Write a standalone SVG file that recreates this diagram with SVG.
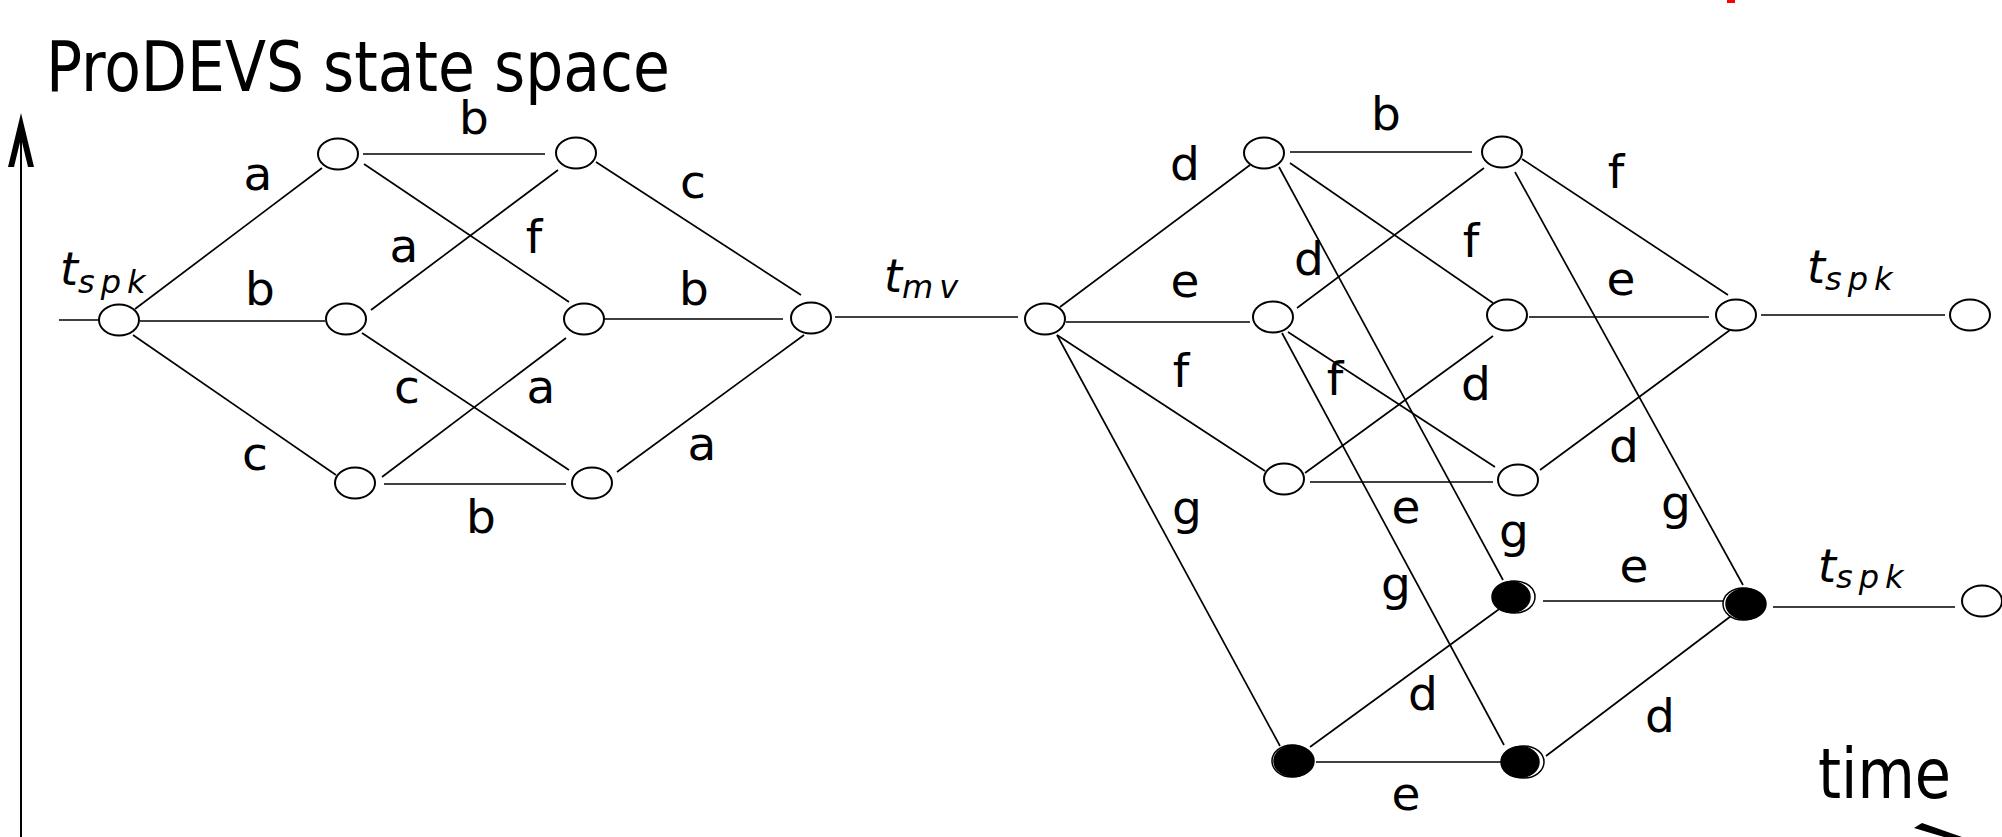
<svg xmlns="http://www.w3.org/2000/svg" width="2002" height="837" viewBox="0 0 2002 837">
<style>
.c line{stroke:#000;stroke-width:1.7;fill:none}
.n{fill:#fff;stroke:#000;stroke-width:2}
.k{fill:#000;stroke:#000;stroke-width:1.5}
.o{fill:#fff;stroke:#000;stroke-width:1.5}
.lb{font-family:"DejaVu Sans","Liberation Sans",sans-serif;font-size:47px;fill:#000;text-anchor:middle}
.it{font-family:"DejaVu Sans","Liberation Sans",sans-serif;font-style:italic;font-size:46px;fill:#000}
.sub{font-size:32px;letter-spacing:6px}
.big{font-family:"DejaVu Sans Condensed","DejaVu Sans","Liberation Sans",sans-serif;font-size:70px;fill:#000}
</style>
<rect width="2002" height="837" fill="#fff"/>
<rect x="1727" y="0" width="8" height="3" fill="#f00"/>
<text class="big" x="46" y="91" textLength="624" lengthAdjust="spacingAndGlyphs">ProDEVS state space</text>
<text class="big" x="1818" y="798" textLength="133" lengthAdjust="spacingAndGlyphs">time</text>
<g id="axis">
<line x1="21" y1="130" x2="21" y2="837" stroke="#000" stroke-width="2"/>
<path d="M21,113 L34,167 L28,167 L21,138 L14,167 L8,167 Z" fill="#000"/>
<path d="M1914,828 L1922,823 L1962,837 L1944,837 Z" fill="#000"/>
</g>
<g id="connectors" class="c">
<line x1="59" y1="320" x2="99" y2="320"/>
<line x1="135" y1="309" x2="322" y2="168"/>
<line x1="140" y1="321" x2="325" y2="321"/>
<line x1="133" y1="335" x2="336" y2="475"/>
<line x1="363" y1="154" x2="545" y2="154"/>
<line x1="364" y1="164" x2="569" y2="302"/>
<line x1="371" y1="310" x2="558" y2="170"/>
<line x1="362" y1="333" x2="569" y2="470"/>
<line x1="596" y1="162" x2="801" y2="295"/>
<line x1="602" y1="319" x2="783" y2="319"/>
<line x1="382" y1="477" x2="566" y2="338"/>
<line x1="384" y1="484" x2="566" y2="484"/>
<line x1="617" y1="472" x2="804" y2="335"/>
<line x1="835" y1="317" x2="1018" y2="317"/>
<line x1="1060" y1="307" x2="1250" y2="165"/>
<line x1="1066" y1="322" x2="1250" y2="322"/>
<line x1="1057" y1="335" x2="1265" y2="471"/>
<line x1="1057" y1="335" x2="1280" y2="746"/>
<line x1="1290" y1="152" x2="1472" y2="152"/>
<line x1="1290" y1="163" x2="1493" y2="303"/>
<line x1="1279" y1="167" x2="1503" y2="580"/>
<line x1="1297" y1="308" x2="1484" y2="168"/>
<line x1="1288" y1="332" x2="1495" y2="467"/>
<line x1="1282" y1="333" x2="1504" y2="745"/>
<line x1="1522" y1="159" x2="1728" y2="295"/>
<line x1="1515" y1="172" x2="1743" y2="585"/>
<line x1="1529" y1="317" x2="1709" y2="317"/>
<line x1="1493" y1="336" x2="1305" y2="473"/>
<line x1="1730" y1="330" x2="1540" y2="470"/>
<line x1="1761" y1="315" x2="1945" y2="315"/>
<line x1="1310" y1="482" x2="1493" y2="482"/>
<line x1="1543" y1="601" x2="1725" y2="601"/>
<line x1="1773" y1="607" x2="1955" y2="607"/>
<line x1="1310" y1="747" x2="1502" y2="607"/>
<line x1="1316" y1="762" x2="1502" y2="762"/>
<line x1="1546" y1="756" x2="1735" y2="613"/>
</g>
<g id="n0"><ellipse class="n" cx="119" cy="320" rx="20" ry="15.5"/></g>
<g id="n1"><ellipse class="n" cx="338" cy="154" rx="20" ry="15.5"/></g>
<g id="n2"><ellipse class="n" cx="346" cy="319" rx="20" ry="15.5"/></g>
<g id="n3"><ellipse class="n" cx="355" cy="483" rx="20" ry="15.5"/></g>
<g id="n4"><ellipse class="n" cx="576" cy="153" rx="20" ry="15.5"/></g>
<g id="n5"><ellipse class="n" cx="584" cy="319" rx="20" ry="15.5"/></g>
<g id="n6"><ellipse class="n" cx="592" cy="483" rx="20" ry="15.5"/></g>
<g id="n7"><ellipse class="n" cx="811" cy="318" rx="20" ry="15.5"/></g>
<g id="m0"><ellipse class="n" cx="1045" cy="319" rx="20" ry="15.5"/></g>
<g id="r1"><ellipse class="n" cx="1264" cy="153" rx="20" ry="15.5"/></g>
<g id="r2"><ellipse class="n" cx="1273" cy="317" rx="20" ry="15.5"/></g>
<g id="r6"><ellipse class="n" cx="1284" cy="479" rx="20" ry="15.5"/></g>
<g id="r3"><ellipse class="n" cx="1502" cy="152" rx="20" ry="15.5"/></g>
<g id="r4"><ellipse class="n" cx="1507" cy="315" rx="20" ry="15.5"/></g>
<g id="r7"><ellipse class="n" cx="1518" cy="480" rx="20" ry="15.5"/></g>
<g id="r5"><ellipse class="n" cx="1736" cy="315" rx="20" ry="15.5"/></g>
<g id="e1"><ellipse class="n" cx="1970" cy="315" rx="20" ry="15.5"/></g>
<g id="e2"><ellipse class="n" cx="1982" cy="601" rx="20" ry="15.5"/></g>
<g id="b1"><ellipse class="o" cx="1515" cy="597" rx="20" ry="16"/><ellipse class="k" cx="1511" cy="597" rx="19" ry="15.5"/></g>
<g id="b2"><ellipse class="o" cx="1743" cy="604" rx="20" ry="16"/><ellipse class="k" cx="1746" cy="604" rx="20" ry="15.5"/></g>
<g id="b3"><ellipse class="o" cx="1292" cy="761" rx="20" ry="16"/><ellipse class="k" cx="1294" cy="761" rx="20" ry="15.5"/></g>
<g id="b4"><ellipse class="o" cx="1524" cy="762" rx="20" ry="16"/><ellipse class="k" cx="1520" cy="762" rx="19" ry="15.5"/></g>
<g id="labels">
<text class="it" x="60" y="285">t<tspan class="sub" dy="8">spk</tspan></text>
<text class="it" x="884" y="292">t<tspan class="sub" dy="6">mv</tspan></text>
<text class="it" x="1807" y="283">t<tspan class="sub" dy="7">spk</tspan></text>
<text class="it" x="1818" y="582">t<tspan class="sub" dy="6">spk</tspan></text>
<text class="lb" x="258" y="190">a</text>
<text class="lb" x="474" y="134">b</text>
<text class="lb" x="693" y="198">c</text>
<text class="lb" x="404" y="262">a</text>
<text class="lb" x="534" y="253">f</text>
<text class="lb" x="260" y="305">b</text>
<text class="lb" x="694" y="305">b</text>
<text class="lb" x="407" y="403">c</text>
<text class="lb" x="541" y="403">a</text>
<text class="lb" x="255" y="470">c</text>
<text class="lb" x="702" y="460">a</text>
<text class="lb" x="481" y="533">b</text>
<text class="lb" x="1185" y="180">d</text>
<text class="lb" x="1386" y="130">b</text>
<text class="lb" x="1309" y="275">d</text>
<text class="lb" x="1185" y="297">e</text>
<text class="lb" x="1181" y="387">f</text>
<text class="lb" x="1335" y="395">f</text>
<text class="lb" x="1187" y="524">g</text>
<text class="lb" x="1471" y="257">f</text>
<text class="lb" x="1476" y="400">d</text>
<text class="lb" x="1616" y="188">f</text>
<text class="lb" x="1621" y="295">e</text>
<text class="lb" x="1624" y="462">d</text>
<text class="lb" x="1406" y="523">e</text>
<text class="lb" x="1514" y="547">g</text>
<text class="lb" x="1676" y="519">g</text>
<text class="lb" x="1634" y="582">e</text>
<text class="lb" x="1396" y="600">g</text>
<text class="lb" x="1423" y="710">d</text>
<text class="lb" x="1660" y="732">d</text>
<text class="lb" x="1406" y="810">e</text>
</g>
</svg>
